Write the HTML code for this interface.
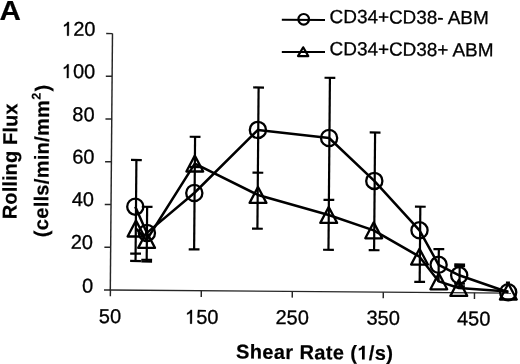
<!DOCTYPE html>
<html><head><meta charset="utf-8"><style>
html,body{margin:0;padding:0;background:#fff;}
svg{display:block;filter:grayscale(1);}
text{font-family:"Liberation Sans",sans-serif;fill:#000;}
.ax{stroke:#262626;stroke-width:1.45;fill:none;}
.eb{stroke:#000;stroke-width:2.2;fill:none;}
.dl{stroke:#000;stroke-width:2.5;fill:none;stroke-linejoin:round;}
.mk{stroke:#000;stroke-width:2.3;fill:none;stroke-linejoin:round;}
.lg{stroke:#000;stroke-width:2;}
.lgm{stroke:#000;stroke-width:2.2;fill:none;stroke-linejoin:round;}
.tl{font-size:20px;stroke:#000;stroke-width:0.3;}
.bt{font-size:20px;font-weight:bold;stroke:#000;stroke-width:0.2;}
.A{font-size:27.4px;font-weight:bold;stroke:#000;stroke-width:0.2;}
.lt{font-size:18.9px;stroke:#000;stroke-width:0.3;}
.h{fill:none;stroke:none;}
</style></head><body>
<svg width="520" height="364" viewBox="0 0 520 364">
<line x1="112.48" y1="33.6" x2="110.3" y2="290" class="ax"/>
<line x1="109.5" y1="290" x2="511" y2="293.13" class="ax"/>
<line x1="104" y1="289.95" x2="110.3" y2="290" class="ax"/>
<line x1="104.36" y1="247.2" x2="110.66" y2="247.25" class="ax"/>
<line x1="104.73" y1="204.45" x2="111.03" y2="204.5" class="ax"/>
<line x1="105.09" y1="161.7" x2="111.39" y2="161.75" class="ax"/>
<line x1="105.45" y1="118.95" x2="111.75" y2="119" class="ax"/>
<line x1="105.82" y1="76.2" x2="112.12" y2="76.25" class="ax"/>
<line x1="106.18" y1="33.55" x2="112.48" y2="33.6" class="ax"/>
<line x1="110.4" y1="290" x2="110.35" y2="296.2" class="ax"/>
<line x1="201.3" y1="290.71" x2="201.25" y2="296.91" class="ax"/>
<line x1="292.3" y1="291.42" x2="292.25" y2="297.62" class="ax"/>
<line x1="383.3" y1="292.13" x2="383.25" y2="298.33" class="ax"/>
<line x1="474.5" y1="292.84" x2="474.45" y2="299.04" class="ax"/>
<line x1="136.4" y1="160" x2="135.54" y2="261" class="eb"/>
<line x1="131" y1="159.95" x2="141.8" y2="160.05" class="eb"/>
<line x1="130.2" y1="253.55" x2="141" y2="253.65" class="eb"/>
<line x1="130.14" y1="260.95" x2="140.94" y2="261.05" class="eb"/>
<line x1="147.14" y1="206.8" x2="146.68" y2="261" class="eb"/>
<line x1="141.74" y1="206.75" x2="152.54" y2="206.85" class="eb"/>
<line x1="141.29" y1="259.75" x2="152.09" y2="259.85" class="eb"/>
<line x1="141.27" y1="261.45" x2="152.07" y2="261.55" class="eb"/>
<line x1="195.08" y1="136.8" x2="194.12" y2="249.4" class="eb"/>
<line x1="189.68" y1="136.75" x2="200.48" y2="136.85" class="eb"/>
<line x1="189.42" y1="166.95" x2="200.22" y2="167.05" class="eb"/>
<line x1="188.72" y1="249.35" x2="199.52" y2="249.45" class="eb"/>
<line x1="258.6" y1="87.5" x2="257.4" y2="228.7" class="eb"/>
<line x1="253.2" y1="87.45" x2="264" y2="87.55" class="eb"/>
<line x1="252.48" y1="172.65" x2="263.28" y2="172.75" class="eb"/>
<line x1="252" y1="228.65" x2="262.8" y2="228.75" class="eb"/>
<line x1="329.93" y1="77.8" x2="328.47" y2="249.8" class="eb"/>
<line x1="324.53" y1="77.75" x2="335.33" y2="77.85" class="eb"/>
<line x1="323.49" y1="199.85" x2="334.29" y2="199.95" class="eb"/>
<line x1="323.07" y1="249.75" x2="333.87" y2="249.85" class="eb"/>
<line x1="375.09" y1="132.5" x2="374.09" y2="250.2" class="eb"/>
<line x1="369.69" y1="132.45" x2="380.49" y2="132.55" class="eb"/>
<line x1="368.69" y1="250.15" x2="379.49" y2="250.25" class="eb"/>
<line x1="420.32" y1="206.7" x2="419.68" y2="281.9" class="eb"/>
<line x1="414.92" y1="206.65" x2="425.72" y2="206.75" class="eb"/>
<line x1="414.28" y1="281.85" x2="425.08" y2="281.95" class="eb"/>
<line x1="438.84" y1="249.1" x2="438.56" y2="282" class="eb"/>
<line x1="433.44" y1="249.05" x2="444.24" y2="249.15" class="eb"/>
<line x1="459.69" y1="264.6" x2="459.49" y2="288" class="eb"/>
<line x1="454.29" y1="264.45" x2="465.09" y2="264.55" class="eb"/>
<line x1="454.28" y1="265.95" x2="465.08" y2="266.05" class="eb"/>
<line x1="454.13" y1="283.55" x2="464.93" y2="283.65" class="eb"/>
<line x1="454.1" y1="286.35" x2="464.9" y2="286.45" class="eb"/>
<line x1="507.94" y1="282" x2="507.91" y2="286" class="eb"/>
<line x1="505.94" y1="282.58" x2="509.94" y2="282.62" class="eb"/>
<polyline class="dl" points="135.3,206.7 146.9,232.9 194.3,193 257.9,129.9 329.1,138 374.3,180.9 419.5,230.3 438.6,264.8 459.2,275.3 508.2,292.2"/>
<polyline class="dl" points="136,228.6 146.6,240 194.8,163.6 258,195 328.7,215 373.7,230.4 419.5,256.7 438.8,281.4 458.8,288 508.3,291.6"/>
<circle cx="135.3" cy="206.7" r="8.1" class="mk"/>
<circle cx="146.9" cy="232.9" r="8.1" class="mk"/>
<circle cx="194.3" cy="193" r="8.1" class="mk"/>
<circle cx="257.9" cy="129.9" r="8.1" class="mk"/>
<circle cx="329.1" cy="138" r="8.1" class="mk"/>
<circle cx="374.3" cy="180.9" r="8.1" class="mk"/>
<circle cx="419.5" cy="230.3" r="8.1" class="mk"/>
<circle cx="438.6" cy="264.8" r="8.1" class="mk"/>
<circle cx="459.2" cy="275.3" r="8.1" class="mk"/>
<circle cx="508.2" cy="292.2" r="8.1" class="mk"/>
<path d="M136 220.6L144.4 236.5L127.6 236.5Z" class="mk"/>
<path d="M146.6 232L155 247.9L138.2 247.9Z" class="mk"/>
<path d="M194.8 155.6L203.2 171.5L186.4 171.5Z" class="mk"/>
<path d="M258 187L266.4 202.9L249.6 202.9Z" class="mk"/>
<path d="M328.7 207L337.1 222.9L320.3 222.9Z" class="mk"/>
<path d="M373.7 222.4L382.1 238.3L365.3 238.3Z" class="mk"/>
<path d="M419.5 248.7L427.9 264.6L411.1 264.6Z" class="mk"/>
<path d="M438.8 273.4L447.2 289.3L430.4 289.3Z" class="mk"/>
<path d="M458.8 280L467.2 295.9L450.4 295.9Z" class="mk"/>
<path d="M508.3 283.6L516.7 299.5L499.9 299.5Z" class="mk"/>
<line x1="281.8" y1="19.8" x2="325" y2="19.9" class="lg"/>
<circle cx="303.7" cy="19.3" r="5.3" class="lgm"/>
<line x1="281.8" y1="51.9" x2="325" y2="52" class="lg"/>
<path d="M303.2 47.3L308.3 56.1L298 56.1Z" class="lgm"/>
<path d="M696 0L515 0L515 1100C470 1057 400 1012 340 982C280 952 230 932 197 920L197 1090C290 1130 370 1180 430 1240C490 1300 520 1350 540 1409L696 1409Z" stroke="#000" stroke-width="30.7" transform="rotate(0.49 95.4 35.9) translate(62.03 35.9) scale(0.009766 -0.009766)"/>
<path d="M696 0L515 0L515 1100C470 1057 400 1012 340 982C280 952 230 932 197 920L197 1090C290 1130 370 1180 430 1240C490 1300 520 1350 540 1409L696 1409Z" stroke="#000" stroke-width="30.7" transform="rotate(0.49 95.2 78.3) translate(61.82 78.3) scale(0.009766 -0.009766)"/>
<path d="M696 0L515 0L515 1100C470 1057 400 1012 340 982C280 952 230 932 197 920L197 1090C290 1130 370 1180 430 1240C490 1300 520 1350 540 1409L696 1409Z" stroke="#000" stroke-width="30.7" transform="rotate(0.49 201.8 323.75) translate(185.11 323.75) scale(0.009766 -0.009766)"/>
<path d="M759 0L478 0L478 1050C400 985 290 935 140 900L140 1120C230 1150 330 1210 400 1270C450 1315 480 1360 500 1409L759 1409Z" stroke="#000" stroke-width="0.0" transform="rotate(0.49 236 358.5) translate(357.28 358.5) scale(0.009766 -0.009766)"/>
<text id="y120" x="95.4" y="35.9" class="tl" text-anchor="end" transform="rotate(0.49 95.4 35.9)"><tspan class="h">1</tspan>20</text>
<text id="y100" x="95.2" y="78.3" class="tl" text-anchor="end" transform="rotate(0.49 95.2 78.3)"><tspan class="h">1</tspan>00</text>
<text id="y80" x="94.6" y="121.3" class="tl" text-anchor="end" transform="rotate(0.49 94.6 121.3)">80</text>
<text id="y60" x="94.4" y="163.6" class="tl" text-anchor="end" transform="rotate(0.49 94.4 163.6)">60</text>
<text id="y40" x="93.9" y="206.2" class="tl" text-anchor="end" transform="rotate(0.49 93.9 206.2)">40</text>
<text id="y20" x="93" y="249" class="tl" text-anchor="end" transform="rotate(0.49 93 249)">20</text>
<text id="y0" x="93" y="292.6" class="tl" text-anchor="end" transform="rotate(0.49 93 292.6)">0</text>
<text id="x50" x="109.9" y="323.1" class="tl" text-anchor="middle" transform="rotate(0.49 109.9 323.1)">50</text>
<text id="x150" x="201.8" y="323.75" class="tl" text-anchor="middle" transform="rotate(0.49 201.8 323.75)"><tspan class="h">1</tspan>50</text>
<text id="x250" x="292.2" y="324.2" class="tl" text-anchor="middle" transform="rotate(0.49 292.2 324.2)">250</text>
<text id="x350" x="383.1" y="324.7" class="tl" text-anchor="middle" transform="rotate(0.49 383.1 324.7)">350</text>
<text id="x450" x="473.6" y="325.4" class="tl" text-anchor="middle" transform="rotate(0.49 473.6 325.4)">450</text>
<text id="shear" x="236" y="358.5" class="bt" letter-spacing="0.38" transform="rotate(0.49 236 358.5)">Shear Rate (<tspan class="h">1</tspan>/s)</text>
<text transform="translate(16.9 161.4) rotate(-89.51)" class="bt" text-anchor="middle" letter-spacing="0.1">Rolling Flux</text>
<text transform="translate(48.6 160.9) rotate(-89.51)" class="bt" text-anchor="middle" letter-spacing="0.3">(cells/min/mm<tspan font-size="12.5" dy="-8.5">2</tspan><tspan dy="8.5" dx="1">)</tspan></text>
<text class="A" transform="translate(-0.6 19.8) scale(1.08 1)">A</text>
<text x="329.6" y="22.9" class="lt" transform="rotate(0.49 330 23)">CD34+CD38- ABM</text>
<text x="329.6" y="55.1" class="lt" transform="rotate(0.49 330 55)">CD34+CD38+ ABM</text>
</svg>
</body></html>
